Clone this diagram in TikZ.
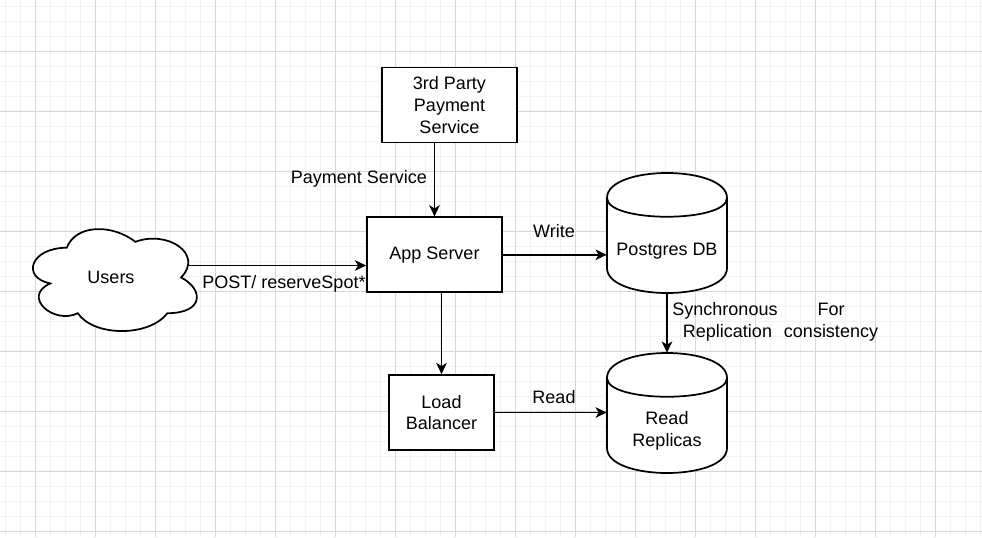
\documentclass[tikz,border=0pt]{standalone}
\usepackage{fontspec}
\setmainfont{Liberation Sans}
\usetikzlibrary{arrows.meta,calc}
\begin{document}
\begin{tikzpicture}[x=0.75pt,y=-0.75pt,
  every node/.style={font=\fontsize{13.5pt}{16.2pt}\selectfont, align=center, inner sep=0pt},
  minorgrid/.style={draw=black!5, line width=0.75pt},
  majorgrid/.style={draw=black!16, line width=0.75pt},
  boxnode/.style={draw=black, fill=white, line width=1.3pt, minimum width=101.25pt, minimum height=56.25pt},
  shapeline/.style={draw=black, fill=white, line width=1.3pt},
  conn/.style={draw=black, line width=1.05pt, -{Stealth[length=8.5pt,width=8pt,inset=2.5pt]}},
  anchorbox/.style={minimum width=90pt, minimum height=90pt}
]
\useasboundingbox (0,0) rectangle (982,537);
\fill[white] (0,0) rectangle (982,537);
% grid
\foreach \x in {5,20,...,980} \draw[minorgrid] (\x,0) -- (\x,537);
\foreach \y in {6,21,...,536} \draw[minorgrid] (0,\y) -- (982,\y);
\foreach \x in {35,95,...,980} \draw[majorgrid] (\x,0) -- (\x,537);
\foreach \y in {51,111,...,536} \draw[majorgrid] (0,\y) -- (982,\y);

% cloud (Users)
\begin{scope}[shift={(21,218)}]
\draw[shapeline] (0.25*183,0.25*119)
  .. controls (0.05*183,0.25*119) and (0,0.5*119) .. (0.16*183,0.55*119)
  .. controls (0,0.66*119) and (0.18*183,0.9*119) .. (0.31*183,0.8*119)
  .. controls (0.4*183,119) and (0.7*183,119) .. (0.8*183,0.8*119)
  .. controls (183,0.8*119) and (183,0.6*119) .. (0.875*183,0.5*119)
  .. controls (183,0.3*119) and (0.8*183,0.1*119) .. (0.625*183,0.2*119)
  .. controls (0.5*183,0.05*119) and (0.3*183,0.05*119) .. (0.25*183,0.25*119) -- cycle;
\end{scope}
\node (users) at (111,277) {Users};
\coordinate (usersE) at (187,265.5);

% boxes
\node[boxnode] (pay) at (449.5,105) {3rd Party\\Payment\\Service};
\node[boxnode] (app) at (434.5,254.8) {App Server};
\node[boxnode, minimum width=78.75pt] (lb) at (441.5,412.5) {Load\\Balancer};

% cylinders
\node[anchorbox] (pg) at (667,233) {};
\node[anchorbox] (rr) at (667,413) {};
\draw[shapeline] (607,173+25) .. controls (607,173-8.33) and (727,173-8.33) .. (727,173+25)
  -- (727,173+95) .. controls (727,173+128.33) and (607,173+128.33) .. (607,173+95) -- cycle;
\draw[shapeline, fill=none] (607,173+25) .. controls (607,173+50) and (727,173+50) .. (727,173+25);
\draw[shapeline] (607,353+25) .. controls (607,353-8.33) and (727,353-8.33) .. (727,353+25)
  -- (727,353+95) .. controls (727,353+128.33) and (607,353+128.33) .. (607,353+95) -- cycle;
\draw[shapeline, fill=none] (607,353+25) .. controls (607,353+50) and (727,353+50) .. (727,353+25);
\node (pgtext) at (667,251) {Postgres DB};
\node (rrtext) at (667,431) {Read\\Replicas};

% connectors
\draw[conn] (pay.south -| app.north) -- (app.north);
\draw[conn] (usersE) -- (usersE -| app.west);
\draw[conn] (app.east) -- (app.east -| pg.west);
\draw[conn] (app.south -| lb.north) -- (lb.north);
\draw[conn] (lb.east) -- (lb.east -| rr.west);
\draw[conn] (pg.south) -- (rr.north);

% labels
\node (lpay) at (359,179) {Payment Service};
\node (lpost) at (284,284) {POST/ reserveSpot*};
\node (lwrite) at (554,231) {Write};
\node (lread) at (554,397) {Read};
\node (lsync) at (725,322) {Synchronous\\\hspace*{3.75pt}Replication};
\node (lfor) at (831,322) {For\\consistency};
\end{tikzpicture}
\end{document}
